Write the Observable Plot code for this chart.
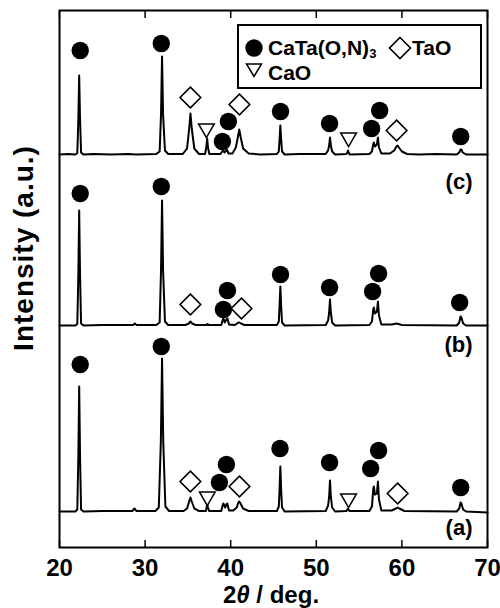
<!DOCTYPE html>
<html>
<head>
<meta charset="utf-8">
<script src="https://cdn.jsdelivr.net/npm/d3@7"></script>
<script src="https://cdn.jsdelivr.net/npm/@observablehq/plot@0.6"></script>
<style>
  body { margin: 0; background: #fff; }
  #wrap { position: relative; width: 500px; height: 608px; font-family: "Liberation Sans", Arial, sans-serif; }
  #overlay { position: absolute; left: 0; top: 0; pointer-events: none; }
</style>
</head>
<body>
<div id="wrap"></div>
<script>
// ---- x axis ticks ----
const xTicks = [20, 30, 40, 50, 60, 70];

// ---- vertical offsets of the three patterns (a.u.) ----
const traceNames = ["(a)", "(b)", "(c)"];
const traceOffsets = [36, 222, 393];
const labelHeights = [20, 203, 366];

// ---- patterns: [2θ, intensity above own baseline] ----
const patternA = [
  [20,0],[21.85,0],[22.08,2],[22.2,55],[22.3,125],[22.4,55],[22.52,2],[22.8,0],
  [25,0.5],[28.5,0.5],[28.75,3],[29.0,0.5],[31.2,0.5],[31.6,4],[31.84,70],[31.98,153],[32.12,70],[32.37,5],[32.8,0.5],
  [34.5,0.5],[34.9,3],[35.15,10],[35.3,14],[35.45,10],[35.75,3],[36.3,0.5],
  [37.1,0.5],[37.18,4],[37.25,8],[37.33,4],[37.5,0.5],
  [38.9,0.5],[39.05,6],[39.15,8],[39.35,4],[39.5,7],[39.6,8],[39.8,1],
  [40.3,1],[40.7,4],[40.9,9],[41.0,10],[41.15,8],[41.45,3],[42.1,0.5],
  [45.4,0.5],[45.62,5],[45.7,20],[45.8,45],[45.9,20],[46.0,4],[46.3,0],
  [51.1,0.5],[51.38,6],[51.5,15],[51.6,31],[51.7,15],[51.85,4],[52.2,0],
  [53.5,0.5],[53.7,2.5],[53.9,0.5],
  [56.2,0.5],[56.5,5],[56.65,22],[56.72,25],[56.85,17],[57.08,18],[57.2,30],[57.32,12],[57.6,1],
  [58.8,1],[59.3,3],[59.5,4],[59.7,3],[60.3,0.5],
  [66.4,0],[66.7,3],[66.85,9],[66.95,8],[67.15,2],[67.5,0],[70,-1]
];
const patternB = [
  [20,0],[21.85,0],[22.08,1.5],[22.2,50],[22.3,115],[22.4,50],[22.52,2],[22.8,0],
  [25,0.5],[28.6,0.5],[28.8,2],[29.0,0.5],[31.3,0.5],[31.7,3],[31.86,55],[31.98,125],[32.1,55],[32.32,4],[32.7,0.5],
  [34.7,0.5],[35.1,2],[35.3,4],[35.5,2],[35.9,0.5],
  [37.2,0.5],[37.3,1.5],[37.4,0.5],
  [38.9,0.5],[39.05,5],[39.15,7],[39.3,3],[39.5,6],[39.62,7],[39.8,1],
  [40.5,0.5],[40.9,3],[41.0,3],[41.2,2],[41.6,0.5],
  [45.4,0.5],[45.62,4],[45.7,18],[45.8,39],[45.9,18],[46.0,3],[46.3,0],
  [51.1,0.5],[51.38,5],[51.5,13],[51.6,26],[51.7,13],[51.85,3],[52.2,0],
  [56.2,0.5],[56.5,4],[56.65,16],[56.72,18],[56.85,12],[57.08,14],[57.2,24],[57.32,10],[57.6,1],
  [58.8,1],[59.4,2],[60.0,0.5],
  [66.4,0],[66.7,3],[66.85,9],[66.95,8],[67.15,2],[67.5,0],[70,0]
];
const patternC = [
  [20,0],[21,0.5],[21.85,0],[22.08,1.5],[22.2,35],[22.3,79],[22.4,35],[22.52,2],[22.8,0],
  [24,0.5],[26,0],[28,0.5],[29,0],[31.3,0.5],[31.7,3],[31.86,40],[31.98,98],[32.1,40],[32.32,4],[32.7,0.5],
  [34.4,0.5],[34.9,6],[35.15,26],[35.3,41],[35.45,26],[35.75,6],[36.3,0.5],
  [37.0,0.5],[37.15,7],[37.25,16],[37.35,7],[37.5,0.5],
  [38.8,0.5],[39.0,3],[39.1,4],[39.3,2],[39.55,5],[39.75,1],
  [40.2,1],[40.6,7],[40.85,18],[41.0,25],[41.15,18],[41.45,6],[42.1,1],
  [43.5,0],[45.4,0.5],[45.62,3],[45.7,14],[45.8,29],[45.9,14],[46.0,3],[46.3,0],
  [48,0.5],[51.1,0.5],[51.38,4],[51.5,9],[51.6,17],[51.7,9],[51.85,3],[52.2,0],
  [53.5,0.5],[53.62,2],[53.7,4],[53.78,2],[53.9,0],
  [56.2,0.5],[56.5,3],[56.65,10],[56.72,12],[56.85,8],[57.08,10],[57.2,17],[57.32,7],[57.6,1],
  [58.6,1],[59.1,4],[59.4,8.5],[59.5,9],[59.65,7],[60.0,3],[60.6,0.5],
  [62,0],[64,0.5],[66.4,0],[66.7,2],[66.85,5],[66.95,5],[67.1,2],[67.5,0],[70,0]
];
const patterns = [patternA, patternB, patternC];

// ---- phase markers: [2θ, height (a.u.)] ----
const perovskiteMarks = [
  // (a)
  [22.42,183],[31.89,201],[38.68,65],[39.5,83],[45.76,99],[51.55,85],[56.35,79],[57.28,97],[66.87,60],
  // (b)
  [22.42,354],[31.89,361],[39.15,238],[39.62,257],[45.82,273],[51.55,260],[56.58,256],[57.28,274],[66.75,245],
  // (c)
  [22.42,497],[31.89,504],[39.03,406],[39.73,426],[45.82,436],[51.55,424],[56.46,419],[57.4,437],[66.87,411]
];
const taoMarks = [
  [35.29,66],[41.02,61],[59.5,54],
  [35.29,243],[41.26,239],
  [35.29,450],[41.02,443],[59.38,417]
];
const caoMarks = [
  [37.27,51],[53.77,49],
  [37.16,419],[53.77,410]
];

// ---- build line rows ----
const lineRows = [];
patterns.forEach((p, i) => p.forEach(([x, y]) => lineRows.push({trace: traceNames[i], x, y: y + traceOffsets[i]})));
const labelRows = traceNames.map((t, i) => ({t, y: labelHeights[i]}));

const font = "'Liberation Sans', Arial, sans-serif";

const chart = Plot.plot({
  width: 500,
  height: 608,
  marginLeft: 59,
  marginRight: 13,
  marginTop: 10,
  marginBottom: 61,
  style: {fontFamily: font, background: "white", color: "black"},
  x: {domain: [20, 70]},
  y: {domain: [0, 537], axis: null},
  marks: [
    Plot.line(lineRows, {x: "x", y: "y", z: "trace", stroke: "black", strokeWidth: 2, strokeLinejoin: "round"}),
    Plot.dot(perovskiteMarks, {x: d => d[0], y: d => d[1], r: 8.7, fill: "black", stroke: "none"}),
    Plot.dot(taoMarks, {x: d => d[0], y: d => d[1], symbol: "diamond2", r: 9.3, fill: "white", stroke: "black", strokeWidth: 1.6}),
    Plot.dot(caoMarks, {x: d => d[0], y: d => d[1], symbol: "triangle2", rotate: 180, r: 7.5, fill: "white", stroke: "black", strokeWidth: 1.5}),
    Plot.text(labelRows, {text: "t", y: "y", frameAnchor: "right", textAnchor: "end", dx: -15, fontSize: 22, fontWeight: "bold"}),
    Plot.axisX({anchor: "bottom", ticks: xTicks, tickSize: -7, tickPadding: 18, fontSize: 24, fontWeight: "bold", strokeWidth: 1.5, label: null}),
    Plot.axisX({anchor: "top", ticks: xTicks, tickSize: -7, tickFormat: () => "", strokeWidth: 1.5, label: null}),
    Plot.frame({stroke: "black", strokeWidth: 2})
  ]
});

const wrap = document.getElementById("wrap");
wrap.appendChild(chart);

// ---- overlay: axis titles and legend ----
const ov = d3.select(wrap).append("svg")
  .attr("id", "overlay").attr("width", 500).attr("height", 608)
  .style("font-family", font).style("font-weight", "bold");

ov.append("text")
  .attr("transform", "translate(33,248) rotate(-90)")
  .attr("text-anchor", "middle").attr("font-size", 28).attr("letter-spacing", 1)
  .text("Intensity (a.u.)");

const xl = ov.append("text").attr("x", 271).attr("y", 603).attr("text-anchor", "middle").attr("font-size", 24);
xl.append("tspan").text("2");
xl.append("tspan").attr("font-style", "italic").text("θ");
xl.append("tspan").text(" / deg.");

// legend
const lg = ov.append("g");
lg.append("rect").attr("x", 238).attr("y", 25).attr("width", 243).attr("height", 63)
  .attr("fill", "white").attr("stroke", "black").attr("stroke-width", 2);
lg.append("circle").attr("cx", 254).attr("cy", 48).attr("r", 8.7).attr("fill", "black");
const t1 = lg.append("text").attr("x", 268).attr("y", 55).attr("font-size", 21);
t1.append("tspan").text("CaTa(O,N)");
t1.append("tspan").attr("font-size", 13).attr("dy", 3).text("3");
lg.append("path").attr("d", "M400,37.5L410.5,48L400,58.5L389.5,48Z").attr("fill", "white").attr("stroke", "black").attr("stroke-width", 1.6);
lg.append("text").attr("x", 412).attr("y", 55).attr("font-size", 21).text("TaO");
lg.append("path").attr("d", "M246.5,64L261.5,64L254,76.5Z").attr("fill", "white").attr("stroke", "black").attr("stroke-width", 1.5);
lg.append("text").attr("x", 268).attr("y", 80).attr("font-size", 21).text("CaO");
</script>
</body>
</html>
